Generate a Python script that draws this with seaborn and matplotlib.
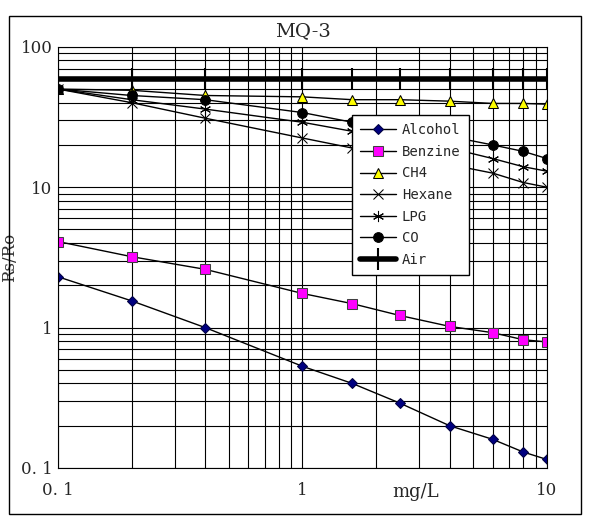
import numpy as np
import pandas as pd
import matplotlib
matplotlib.use('Agg')
import matplotlib.pyplot as plt
import seaborn as sns
from matplotlib.ticker import LogLocator, NullFormatter, FixedLocator, FixedFormatter

# concentration (mg/L) and Rs/Ro readings per gas
conc = [0.1, 0.2, 0.4, 1, 1.6, 2.5, 4, 6, 8, 10]
alcohol = [2.3, 1.55, 1.0, 0.53, 0.4, 0.29, 0.2, 0.16, 0.13, 0.115]
benzine = [4.1, 3.2, 2.6, 1.75, 1.48, 1.22, 1.02, 0.92, 0.82, 0.79]
ch4 = [50, 49, 45, 44, 42, 42, 41, 39.5, 39.5, 39]
hexane = [50, 40, 31, 22.4, 19, 17, 14.5, 12.6, 10.8, 10]
lpg = [50, 42, 36, 29, 25, 22, 19, 16, 14, 13]
co = [50, 45, 42, 34, 29, 26, 23, 20, 18, 16]
air = [59] * len(conc)

sns.set_style('white')
plt.rcParams['font.family'] = ['DejaVu Serif']

fig = plt.figure(figsize=(5.99, 5.2), dpi=100)
ax = fig.add_axes([0.097, 0.1, 0.816, 0.81])

styles = [
    ('Alcohol', alcohol, dict(marker='D', markersize=5, markerfacecolor='#000080', markeredgecolor='#000040')),
    ('Benzine', benzine, dict(marker='s', markersize=7, markerfacecolor='#ff00ff', markeredgecolor='#404040')),
    ('CH4', ch4, dict(marker='^', markersize=7, markerfacecolor='#ffff00', markeredgecolor='black')),
    ('Hexane', hexane, dict(marker='x', markersize=7, markeredgecolor='black')),
    ('LPG', lpg, dict(marker=(6, 2, 0), markersize=8, markeredgecolor='black')),
    ('CO', co, dict(marker='o', markersize=7, markerfacecolor='black', markeredgecolor='black')),
]
for name, vals, kw in styles:
    sns.lineplot(x=conc, y=vals, ax=ax, color='black', linewidth=1, label=name, **kw)
sns.lineplot(x=conc, y=air, ax=ax, color='black', linewidth=4, marker='|',
             markersize=16, markeredgewidth=1.5, markeredgecolor='black', label='Air')

ax.set_xscale('log')
ax.set_yscale('log')
ax.set_xlim(0.1, 10)
ax.set_ylim(0.1, 100)
ax.xaxis.set_minor_locator(LogLocator(base=10, subs=np.arange(2, 10)))
ax.yaxis.set_minor_locator(LogLocator(base=10, subs=np.arange(2, 10)))
ax.xaxis.set_minor_formatter(NullFormatter())
ax.yaxis.set_minor_formatter(NullFormatter())
ax.xaxis.set_major_locator(FixedLocator([0.1, 1, 10]))
ax.xaxis.set_major_formatter(FixedFormatter(['0. 1', '1', '10']))
ax.yaxis.set_major_locator(FixedLocator([0.1, 1, 10, 100]))
ax.yaxis.set_major_formatter(FixedFormatter(['0. 1', '1', '10', '100']))
ax.grid(True, which='both', color='black', linewidth=0.8)
ax.tick_params(which='both', length=0, labelsize=12)
ax.tick_params(axis='x', pad=10)
ax.tick_params(axis='y', pad=4)
for s in ax.spines.values():
    s.set_color('black')

ax.set_title('MQ-3', fontsize=14, pad=8)
ax.set_ylabel('Rs/Ro', fontsize=12, color='#333333', labelpad=2)
ax.text(2.9, 0.068, 'mg/L', fontsize=13, ha='center', va='center')

leg = ax.legend(loc='upper left', bbox_to_anchor=(0.587, 0.855), frameon=True,
                fancybox=False, edgecolor='black', framealpha=1,
                labelspacing=0.55, handlelength=2.6, borderpad=0.6, handletextpad=0.4,
                prop={'family': 'DejaVu Sans Mono', 'size': 10})
leg.get_frame().set_linewidth(1)

fig.patches.append(plt.Rectangle((0.015, 0.012), 0.955, 0.958, transform=fig.transFigure,
                                 fill=False, edgecolor='black', linewidth=1))
fig.savefig('out.png', dpi=100)
